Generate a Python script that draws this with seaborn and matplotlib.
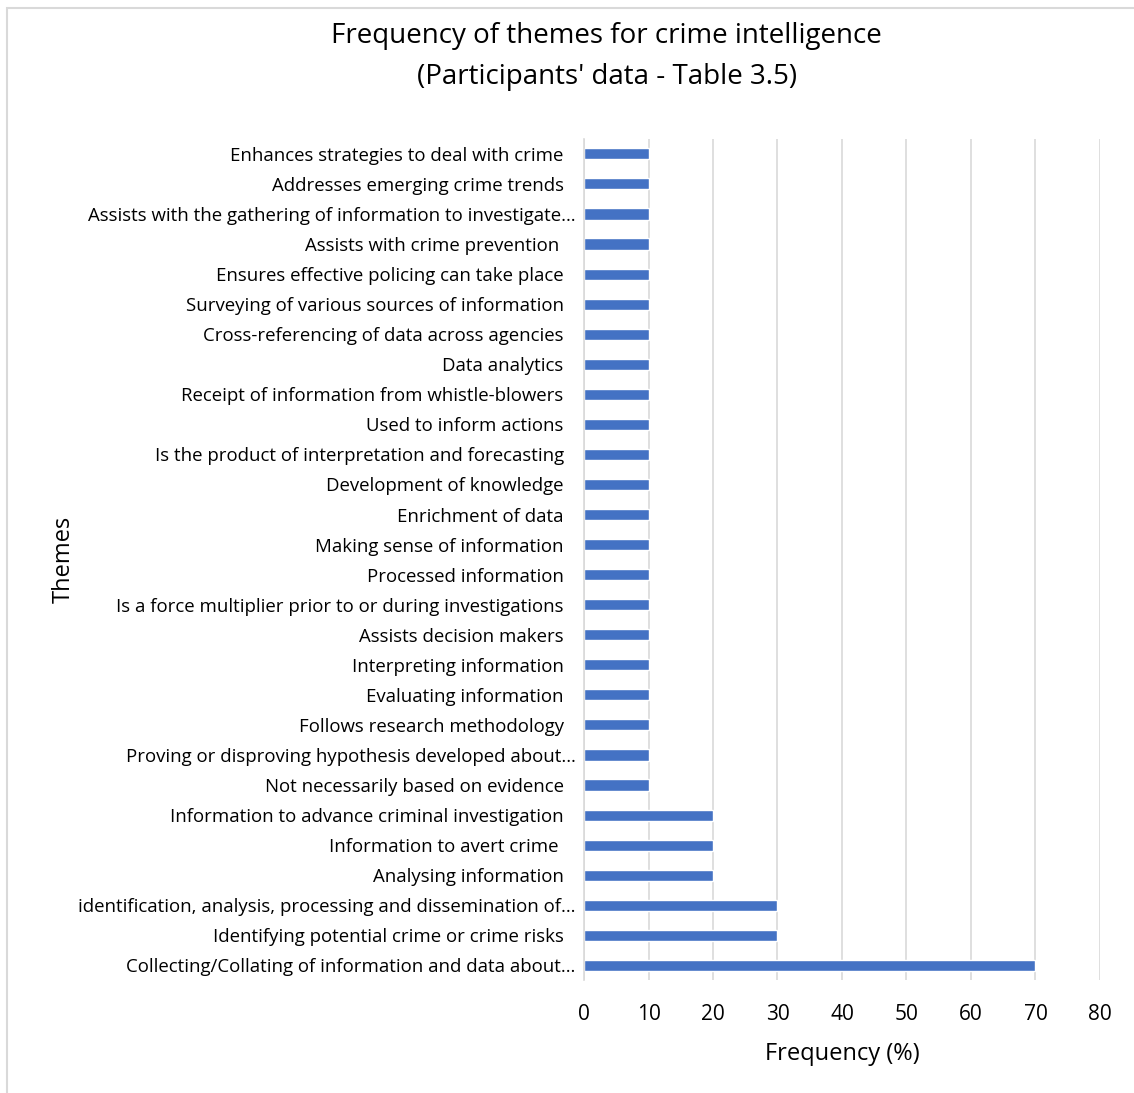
import matplotlib
matplotlib.use("Agg")
import matplotlib.pyplot as plt
import matplotlib.transforms as mtransforms
import seaborn as sns
import pandas as pd
from matplotlib.patches import Rectangle

themes = [
    "Enhances strategies to deal with crime",
    "Addresses emerging crime trends",
    "Assists with the gathering of information to investigate…",
    "Assists with crime prevention ",
    "Ensures effective policing can take place",
    "Surveying of various sources of information",
    "Cross-referencing of data across agencies",
    "Data analytics",
    "Receipt of information from whistle-blowers",
    "Used to inform actions",
    "Is the product of interpretation and forecasting",
    "Development of knowledge",
    "Enrichment of data",
    "Making sense of information",
    "Processed information",
    "Is a force multiplier prior to or during investigations",
    "Assists decision makers",
    "Interpreting information",
    "Evaluating information",
    "Follows research methodology",
    "Proving or disproving hypothesis developed about…",
    "Not necessarily based on evidence",
    "Information to advance criminal investigation",
    "Information to avert crime ",
    "Analysing information",
    "identification, analysis, processing and dissemination of…",
    "Identifying potential crime or crime risks",
    "Collecting/Collating of information and data about…",
]
frequency = [10] * 22 + [20, 20, 20, 30, 30, 70]
x_ticks = [0, 10, 20, 30, 40, 50, 60, 70, 80]

df = pd.DataFrame({"Theme": themes, "Frequency": frequency})

sns.set_theme(style="white")
plt.rcParams["font.family"] = ["Open Sans", "DejaVu Sans"]
plt.rcParams["text.color"] = "black"
plt.rcParams["axes.labelcolor"] = "black"
plt.rcParams["xtick.color"] = "black"
plt.rcParams["ytick.color"] = "black"

fig = plt.figure(figsize=(11.34, 10.93), dpi=100)
ax = fig.add_axes([0.515, 0.103, 0.455, 0.770])

sns.barplot(data=df, x="Frequency", y="Theme", orient="h", color="#4472C4",
            saturation=1, width=0.37, ax=ax)

ax.set_xlim(0, 80)
ax.set_xticks(x_ticks)
ax.set_xticklabels([str(t) for t in x_ticks], fontsize=15)
ax.tick_params(axis="y", labelsize=13.4, length=0, pad=6)
ax.tick_params(axis="x", length=0, pad=17)
ax.grid(axis="x", color="#D9D9D9", linewidth=1.2)
ax.set_axisbelow(True)
for s in ["top", "right", "bottom"]:
    ax.spines[s].set_visible(False)
ax.spines["left"].set_color("#D9D9D9")
ax.spines["left"].set_linewidth(1.2)
ax.set_xlabel("Frequency (%)", fontsize=17, labelpad=12)
ax.set_ylabel("Themes", fontsize=17)
ax.yaxis.set_label_coords(-0.986, 0.5)

# Excel leaves extra room after labels that were not truncated
for lbl in ax.get_yticklabels():
    if not lbl.get_text().endswith("…"):
        lbl.set_transform(lbl.get_transform() + mtransforms.ScaledTranslation(
            -12 / 100, 0, fig.dpi_scale_trans))

fig.text(0.535, 0.967, "Frequency of themes for crime intelligence", ha="center",
         va="center", fontsize=20)
fig.text(0.535, 0.930, "(Participants' data - Table 3.5)", ha="center",
         va="center", fontsize=20)

fig.patches.append(Rectangle((7 / 1134, -0.01), 1.2, 1 - 8 / 1093 + 0.01,
                             transform=fig.transFigure, fill=False,
                             edgecolor="#D9D9D9", linewidth=1.5))

fig.savefig("out.png", dpi=100)
